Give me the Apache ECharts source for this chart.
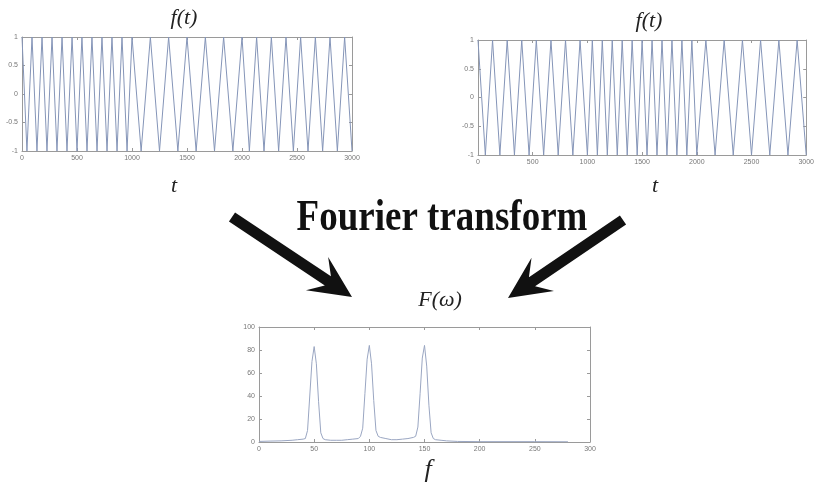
<!DOCTYPE html>
<html><head><meta charset="utf-8">
<script src="https://cdn.jsdelivr.net/npm/echarts@6/dist/echarts.min.js"></script>
<style>html,body{margin:0;padding:0;background:#fff}#c{width:817px;height:491px}</style>
</head><body><div id="c"></div>
<script>
// Left signal: turning points (t) and values
var leftT = [0,45,91,136,182,227,273,318,364,409,455,500,545,591,636,682,727,773,818,864,909,955,1000,
  1083,1167,1250,1333,1417,1500,1583,1667,1750,1833,1917,2000,
  2067,2133,2200,2267,2333,2400,2467,2533,2600,2667,2733,2800,2867,2933,3000];
var leftV = [1,-1,1,-1,1,-1,1,-1,1,-1,1,-1,1,-1,1,-1,1,-1,1,-1,1,-1,1,
  -1,1,-1,1,-1,1,-1,1,-1,1,-1,1,
  -1,1,-1,1,-1,1,-1,1,-1,1,-1,1,-1,1,-1];
// Right signal
var rightT = [0,67,133,200,267,333,400,467,533,600,667,733,800,867,933,1000,
  1045,1091,1136,1182,1227,1273,1318,1364,1409,1455,1500,1545,1591,1636,1682,1727,1773,1818,1864,1909,1955,2000,
  2083,2167,2250,2333,2417,2500,2583,2667,2750,2833,2917,3000];
var rightV = [1,-1,1,-1,1,-1,1,-1,1,-1,1,-1,1,-1,1,-1,
  1,-1,1,-1,1,-1,1,-1,1,-1,1,-1,1,-1,1,-1,1,-1,1,-1,1,-1,
  1,-1,1,-1,1,-1,1,-1,1,-1,1,-1];
// Spectrum
var specF = [0,10,20,30,35,40,42,44,46,48,50,52,54,56,58,60,65,70,75,80,85,90,92,94,96,98,100,102,104,106,
  108,110,115,120,125,130,135,140,142,144,146,148,150,152,154,156,158,160,165,170,180,200,250,280];
var specA = [0.5,0.8,1,1.5,2,2.5,3,10,40,70,83,68,35,8,3,2,1.5,1.5,1.5,2,2.5,3,5,12,42,72,84,68,36,10,
  5,4,3,2,2,2.5,3,4,5,13,42,73,84,66,32,8,3,2,1.5,1,0.5,0.3,0.3,0.2];
var timeTicks = ['0','500','1000','1500','2000','2500','3000'];
var ampTicks = ['-1','-0.5','0','0.5','1'];
var freqTicks = ['0','50','100','150','200','250','300'];
var magTicks = ['0','20','40','60','80','100'];

function zip(a,b){return a.map(function(v,i){return [v,b[i]];});}

var axisGray = '#9a9a9a';
var lblStyle = {fontSize:7, color:'#777', fontFamily:'Liberation Sans'};
function xAx(gi,min,max,iv,labels,pos){
  return {type:'value',gridIndex:gi,min:min,max:max,interval:iv,position:pos||'bottom',
    axisLine:{show:true,onZero:false,lineStyle:{color:axisGray,width:1}},
    axisTick:{show:true,inside:true,length:3,lineStyle:{color:axisGray}},
    splitLine:{show:false},
    axisLabel:pos==='top'?{show:false}:Object.assign({margin:4,formatter:function(v){return labels[Math.round((v-min)/iv)];}},lblStyle)};
}
function yAx(gi,min,max,iv,labels,pos){
  return {type:'value',gridIndex:gi,min:min,max:max,interval:iv,position:pos||'left',
    axisLine:{show:true,onZero:false,lineStyle:{color:axisGray,width:1}},
    axisTick:{show:true,inside:true,length:3,lineStyle:{color:axisGray}},
    splitLine:{show:false},
    axisLabel:pos==='right'?{show:false}:Object.assign({margin:4,formatter:function(v){return labels[Math.round((v-min)/iv)];}},lblStyle)};
}

function arrow(x0,y0,x1,y1){
  var dx=x1-x0, dy=y1-y0, L=Math.sqrt(dx*dx+dy*dy), ux=dx/L, uy=dy/L, nx=-uy, ny=ux;
  var w=5.5, hl=42, hw=20, notch=13;
  var bx=x1-ux*hl, by=y1-uy*hl;
  var kx=bx+ux*notch, ky=by+uy*notch;
  return [[x0+nx*w,y0+ny*w],[kx+nx*w,ky+ny*w],[bx+nx*hw,by+ny*hw],[x1,y1],[bx-nx*hw,by-ny*hw],[kx-nx*w,ky-ny*w],[x0-nx*w,y0-ny*w]];
}

var chart = echarts.init(document.getElementById('c'), null, {renderer:'canvas'});
chart.setOption({
  backgroundColor:'#fff',
  animation:false,
  grid:[
    {left:22,top:37,width:330,height:114},
    {left:478,top:40,width:330,height:115},
    {left:259,top:327,width:331,height:115}
  ],
  xAxis:[
    xAx(0,0,3000,500,timeTicks), xAx(0,0,3000,500,timeTicks,'top'),
    xAx(1,0,3000,500,timeTicks), xAx(1,0,3000,500,timeTicks,'top'),
    xAx(2,0,300,50,freqTicks), xAx(2,0,300,50,freqTicks,'top')
  ],
  yAxis:[
    yAx(0,-1,1,0.5,ampTicks), yAx(0,-1,1,0.5,ampTicks,'right'),
    yAx(1,-1,1,0.5,ampTicks), yAx(1,-1,1,0.5,ampTicks,'right'),
    yAx(2,0,100,20,magTicks), yAx(2,0,100,20,magTicks,'right')
  ],
  series:[
    {type:'line',xAxisIndex:0,yAxisIndex:0,data:zip(leftT,leftV),showSymbol:false,lineStyle:{color:'#8595b8',width:1}},
    {type:'line',xAxisIndex:2,yAxisIndex:2,data:zip(rightT,rightV),showSymbol:false,lineStyle:{color:'#8595b8',width:1}},
    {type:'line',xAxisIndex:4,yAxisIndex:4,data:zip(specF,specA),showSymbol:false,lineStyle:{color:'#9aa6c2',width:1}}
  ],
  graphic:[
    {type:'text',x:184,y:18,style:{text:'f(t)',font:'italic 22px "Liberation Serif"',fill:'#222',textAlign:'center',textVerticalAlign:'middle'}},
    {type:'text',x:649,y:21,style:{text:'f(t)',font:'italic 22px "Liberation Serif"',fill:'#222',textAlign:'center',textVerticalAlign:'middle'}},
    {type:'text',x:174,y:186,style:{text:'t',font:'italic 22px "Liberation Serif"',fill:'#222',textAlign:'center',textVerticalAlign:'middle'}},
    {type:'text',x:655,y:186,style:{text:'t',font:'italic 22px "Liberation Serif"',fill:'#222',textAlign:'center',textVerticalAlign:'middle'}},
    {type:'text',x:442,y:219,scaleY:1.18,style:{text:'Fourier transform',font:'bold 37px "Liberation Serif"',fill:'#111',textAlign:'center',textVerticalAlign:'middle'}},
    {type:'text',x:440,y:300,style:{text:'F(\u03c9)',font:'italic 22px "Liberation Serif"',fill:'#222',textAlign:'center',textVerticalAlign:'middle'}},
    {type:'text',x:428,y:470,style:{text:'f',font:'italic 26px "Liberation Serif"',fill:'#222',textAlign:'center',textVerticalAlign:'middle'}},
    {type:'polygon',shape:{points:arrow(232,217,352,297)},style:{fill:'#111'}},
    {type:'polygon',shape:{points:arrow(623,220,508,298)},style:{fill:'#111'}}
  ]
});
</script></body></html>
